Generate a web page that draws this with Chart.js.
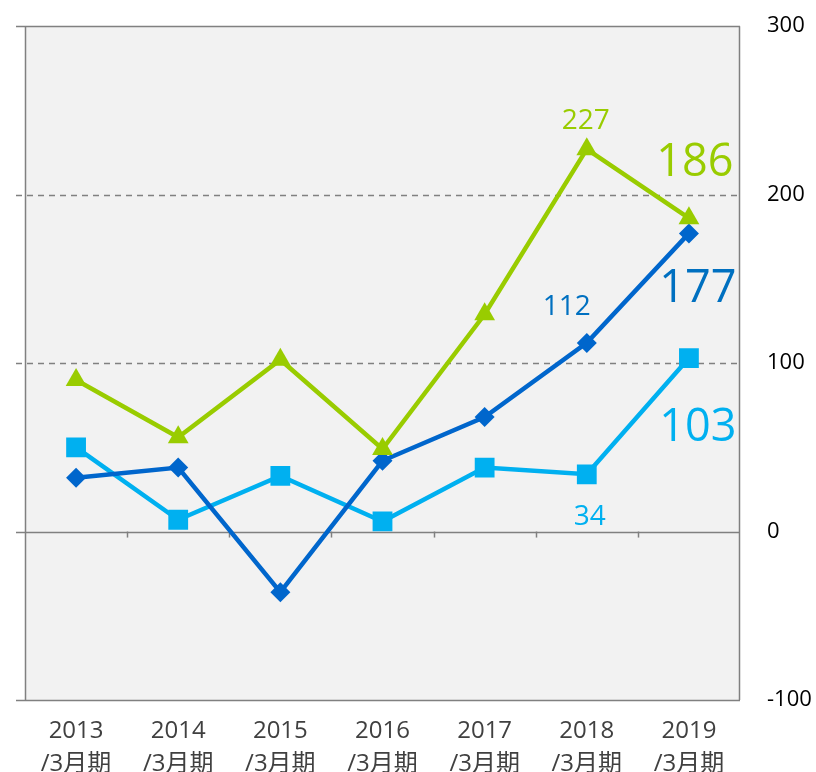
<!DOCTYPE html>
<html>
<head>
<meta charset="utf-8">
<script src="https://cdn.jsdelivr.net/npm/chart.js@4/dist/chart.umd.min.js"></script>
<style>
html,body{margin:0;padding:0;background:#fff;}
#wrap{width:816px;height:772px;}
</style>
</head>
<body>
<div id="wrap"><canvas id="c" width="816" height="772"></canvas></div>
<script>
const categories = [['2013','/3月期'],['2014','/3月期'],['2015','/3月期'],['2016','/3月期'],['2017','/3月期'],['2018','/3月期'],['2019','/3月期']];
const greenSeries = [90, 56, 102, 49, 129, 227, 186];
const darkBlueSeries = [32, 38, -36, 42, 68, 112, 177];
const lightBlueSeries = [50, 7, 33, 6, 38, 34, 103];
const yTicks = [-100, 0, 100, 200, 300];

const GREEN = '#99CC00', DARK = '#0066CC', LIGHT = '#00B0F0';

// data label placements: [datasetIndex, pointIndex, dx, dy, fontSize, color]
const labelSpecs = [
  [0, 5, -1, -28, 28, GREEN],
  [0, 6, 6, -55, 45, GREEN],
  [1, 5, -20, -36, 28, '#0070C0'],
  [1, 6, 9, 56, 45, '#0070C0'],
  [2, 6, 9, 70, 45, LIGHT],
  [2, 5, 3, 43, 28, LIGHT]
];

const decor = {
  id: 'decor',
  beforeDatasetsDraw(chart) {
    const ctx = chart.ctx, a = chart.chartArea;
    const y = chart.scales.y, x = chart.scales.x;
    ctx.save();
    ctx.fillStyle = '#F2F2F2';
    ctx.fillRect(a.left, a.top, a.right - a.left, a.bottom - a.top);
    ctx.strokeStyle = '#808080';
    ctx.lineWidth = 1.5;
    yTicks.forEach(v => {
      const py = Math.round(y.getPixelForValue(v)) + 0.5;
      ctx.setLineDash(v === 100 || v === 200 ? [6, 5] : []);
      ctx.beginPath();
      ctx.moveTo(a.left - 9, py);
      ctx.lineTo(a.right, py);
      ctx.stroke();
    });
    ctx.setLineDash([]);
    const zy = y.getPixelForValue(0);
    for (let i = 1; i < categories.length; i++) {
      const px = Math.round((x.getPixelForValue(i - 1) + x.getPixelForValue(i)) / 2) + 0.5;
      ctx.beginPath();
      ctx.moveTo(px, zy);
      ctx.lineTo(px, zy + 6);
      ctx.stroke();
    }
    ctx.beginPath();
    ctx.moveTo(a.left + 0.5, a.top);
    ctx.lineTo(a.left + 0.5, a.bottom);
    ctx.moveTo(a.right - 0.5, a.top);
    ctx.lineTo(a.right - 0.5, a.bottom);
    ctx.stroke();
    ctx.restore();
  },
  afterDatasetsDraw(chart) {
    const ctx = chart.ctx;
    ctx.save();
    ctx.textAlign = 'center';
    ctx.textBaseline = 'middle';
    labelSpecs.forEach(([di, pi, dx, dy, fs, col]) => {
      const ds = chart.data.datasets[di];
      const px = chart.scales.x.getPixelForValue(pi);
      const py = chart.scales.y.getPixelForValue(ds.data[pi]);
      ctx.font = fs + 'px "Open Sans", sans-serif';
      ctx.fillStyle = col;
      ctx.fillText(String(ds.data[pi]), px + dx, py + dy);
    });
    ctx.restore();
  }
};

new Chart(document.getElementById('c'), {
  type: 'line',
  data: {
    labels: categories,
    datasets: [
      { data: greenSeries, borderColor: GREEN, backgroundColor: GREEN, borderWidth: 4.5,
        pointStyle: 'triangle', pointRadius: 12, pointHoverRadius: 12, pointBorderWidth: 0 },
      { data: darkBlueSeries, borderColor: DARK, backgroundColor: DARK, borderWidth: 4.5,
        pointStyle: 'rectRot', pointRadius: 10, pointHoverRadius: 10, pointBorderWidth: 0 },
      { data: lightBlueSeries, borderColor: LIGHT, backgroundColor: LIGHT, borderWidth: 4.5,
        pointStyle: 'rect', pointRadius: 14, pointHoverRadius: 14, pointBorderWidth: 0 }
    ]
  },
  options: {
    responsive: false,
    animation: false,
    layout: { padding: { top: 26, left: 25, right: 0, bottom: 0 } },
    plugins: { legend: { display: false }, tooltip: { enabled: false } },
    elements: { line: { tension: 0 } },
    scales: {
      x: {
        type: 'category',
        offset: true,
        grid: { display: false, drawTicks: false },
        border: { display: false },
        ticks: {
          color: '#404040', padding: 14, maxRotation: 0, autoSkip: false,
          font: { size: 24, family: '"Open Sans", "Noto Sans CJK JP", sans-serif', lineHeight: 1.4 }
        },
        afterFit(s) { s.height = 72; }
      },
      y: {
        position: 'right',
        min: -100, max: 300,
        afterBuildTicks(s) { s.ticks = yTicks.map(v => ({ value: v })); },
        grid: { display: false, drawTicks: true, tickLength: 14 },
        border: { display: false },
        ticks: {
          color: '#000', padding: 13, crossAlign: 'near',
          font: { size: 22, family: '"Open Sans", sans-serif' }
        },
        afterFit(s) { s.width = 76; }
      }
    }
  },
  plugins: [decor]
});
</script>
</body>
</html>
